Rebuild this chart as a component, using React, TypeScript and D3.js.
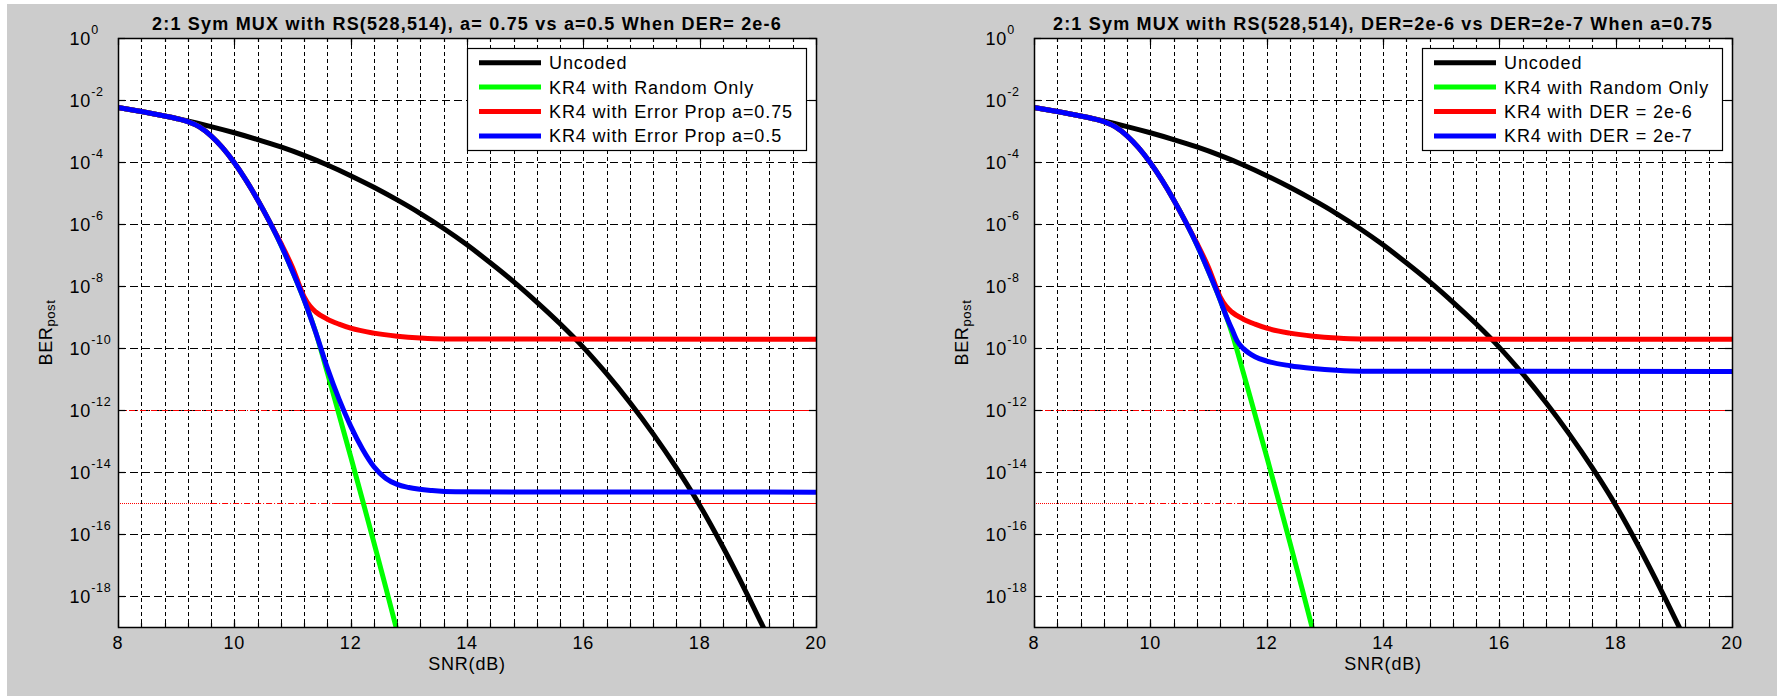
import React, { useRef, useEffect } from 'react';
import * as d3 from 'd3';

const width = 1781;
const height = 696;
const plotTop = 38;
const plotBottom = 627;
const plotW = 698;
const font = '"Liberation Sans", Arial, Helvetica, sans-serif';

// Uncoded curve (same in both panels)
const snrUncoded = [8, 8.4, 8.8, 9.2, 9.6, 10, 10.4, 10.8, 11.2, 11.6, 12, 12.4, 12.8, 13.2, 13.6, 14, 14.4, 14.8, 15.2, 15.6, 16, 16.4, 16.8, 17.2, 17.6, 18, 18.4, 18.8, 19.2];
const berUncoded = [5.75e-3, 4.25e-3, 3.05e-3, 2.11e-3, 1.39e-3, 8.79e-4, 5.3e-4, 3.05e-4, 1.63e-4, 8.02e-5, 3.63e-5, 1.53e-5, 5.97e-6, 2.17e-6, 7.18e-7, 2.13e-7, 5.6e-8, 1.38e-8, 3.02e-9, 6.03e-10, 1.05e-10, 1.48e-11, 1.74e-12, 1.7e-13, 1.35e-14, 8.51e-16, 3.8e-17, 1.32e-18, 3.8e-20];

// shared waterfall of the KR4 coded curves before they split
const snrCoded = [8, 8.4, 8.8, 9, 9.2, 9.4, 9.6, 9.8, 10, 10.2, 10.4, 10.6, 10.8, 11, 11.2];
const berCoded = [5.75e-3, 4.25e-3, 3.05e-3, 2.54e-3, 2.01e-3, 1.36e-3, 6.98e-4, 2.84e-4, 9.42e-5, 2.59e-5, 6.08e-6, 1.24e-6, 2.16e-7, 2.98e-8, 3.58e-9];

// KR4 with random errors only
const snrRandomTail = [11.4, 11.6, 11.8, 12, 12.2, 12.4, 12.6, 12.8];
const berRandomTail = [3.16e-10, 1.58e-11, 7.08e-13, 3.16e-14, 1.32e-15, 5.25e-17, 2.0e-18, 7.08e-20];

// KR4 with error propagation a=0.75 / DER=2e-6 (splits off after 10.6 dB)
const snrRedTail = [10.8, 11, 11.2, 11.3, 11.4, 11.6, 11.8, 12, 12.4, 12.8, 13.2, 13.6, 20];
const berRedTail = [2.4e-7, 3.98e-8, 4.47e-9, 2.24e-9, 1.45e-9, 8.51e-10, 5.89e-10, 4.37e-10, 3.02e-10, 2.4e-10, 2.09e-10, 1.95e-10, 1.91e-10];

// KR4 with error propagation a=0.5 (left panel)
const snrBlueLeftTail = [11.4, 11.6, 11.8, 12, 12.2, 12.4, 12.6, 12.8, 13, 13.4, 13.8, 20];
const berBlueLeftTail = [3.16e-10, 2.24e-11, 2.24e-12, 3.02e-13, 5.62e-14, 1.48e-14, 6.31e-15, 3.98e-15, 3.16e-15, 2.51e-15, 2.29e-15, 2.24e-15];

// KR4 with DER = 2e-7 (right panel)
const snrBlueRightTail = [11.3, 11.4, 11.5, 11.6, 11.8, 12, 12.4, 12.8, 13.2, 13.6, 20];
const berBlueRightTail = [1.12e-9, 4.17e-10, 1.58e-10, 9.55e-11, 5.25e-11, 3.8e-11, 2.69e-11, 2.19e-11, 1.91e-11, 1.78e-11, 1.74e-11];

const thresholds = [1e-12, 1e-15];

const xTicks = [8, 10, 12, 14, 16, 18, 20];
const yTickExp = [0, -2, -4, -6, -8, -10, -12, -14, -16, -18];

const titles = [
  '2:1 Sym MUX with RS(528,514), a= 0.75 vs a=0.5 When DER= 2e-6',
  '2:1 Sym MUX with RS(528,514), DER=2e-6 vs DER=2e-7 When a=0.75',
];
const legendLeft = ['Uncoded', 'KR4 with Random Only', 'KR4 with Error Prop a=0.75', 'KR4 with Error Prop a=0.5'];
const legendRight = ['Uncoded', 'KR4 with Random Only', 'KR4 with DER = 2e-6', 'KR4 with DER = 2e-7'];
const colors = ['#000000', '#00ff00', '#ff0000', '#0000ff'];

const zip = (xs: number[], ys: number[]) => xs.map((v, i) => [v, ys[i]] as [number, number]);

function drawPanel(svg: any, left: number, idx: number, title: string, labels: string[], blue: [number, number][]) {
  const x = d3.scaleLinear([8, 20], [left, left + plotW]);
  const y = d3.scaleLog([1e-19, 1], [plotBottom, plotTop]);
  const right = left + plotW;
  const cx = left + plotW / 2;
  const g = svg.append('g');
  const clipId = `clip${idx}`;

  g.append('clipPath').attr('id', clipId)
    .append('rect').attr('x', left).attr('y', plotTop).attr('width', plotW).attr('height', plotBottom - plotTop);

  g.append('rect')
    .attr('x', left).attr('y', plotTop)
    .attr('width', plotW).attr('height', plotBottom - plotTop)
    .attr('fill', '#fff');

  // grid
  const xGrid = d3.range(1, 30).map(i => 8 + i * 0.4);
  g.append('g').selectAll('line').data(xGrid).join('line')
    .attr('x1', d => Math.round(x(d)) + 0.5).attr('x2', d => Math.round(x(d)) + 0.5)
    .attr('y1', plotTop).attr('y2', plotBottom)
    .attr('stroke', '#000').attr('stroke-width', 1)
    .attr('stroke-dasharray', '4,3');
  g.append('g').selectAll('line').data(yTickExp.slice(1)).join('line')
    .attr('x1', left).attr('x2', right)
    .attr('y1', d => Math.round(y(10 ** d)) + 0.5).attr('y2', d => Math.round(y(10 ** d)) + 0.5)
    .attr('stroke', '#000').attr('stroke-width', 1)
    .attr('stroke-dasharray', '8,4');

  // thin red threshold lines (dotted/dash-dot near the left like the original)
  const thr = g.append('g').attr('stroke', '#ff0000').attr('stroke-width', 1.2);
  const seg = (v: number, a: number, b: number, dash: string | null) => thr.append('line')
    .attr('x1', x(a)).attr('x2', x(b))
    .attr('y1', Math.round(y(v)) + 0.5).attr('y2', Math.round(y(v)) + 0.5)
    .attr('stroke-dasharray', dash);
  seg(thresholds[0], 8, 11.2, '6,2,1,2');
  seg(thresholds[0], 11.2, 20, null);
  seg(thresholds[1], 8, 9.6, '1,1');
  seg(thresholds[1], 9.6, 11.7, '6,2,1,2');
  seg(thresholds[1], 11.7, 20, null);

  // curves
  const line = d3.line<[number, number]>()
    .x(d => x(d[0]))
    .y(d => y(d[1]))
    .curve(d3.curveMonotoneX);
  const coded = zip(snrCoded, berCoded);
  const series = [
    zip(snrUncoded, berUncoded),
    coded.concat(zip(snrRandomTail, berRandomTail)),
    coded.slice(0, 12).concat(zip(snrRedTail, berRedTail)),
    coded.concat(blue),
  ];
  const curves = g.append('g').attr('clip-path', `url(#${clipId})`);
  series.forEach((s, i) => {
    curves.append('path')
      .attr('d', line(s))
      .attr('fill', 'none')
      .attr('stroke', colors[i])
      .attr('stroke-width', 5)
      .attr('stroke-linejoin', 'round');
  });

  // axes box and ticks
  g.append('rect')
    .attr('x', left + 0.5).attr('y', plotTop + 0.5)
    .attr('width', plotW).attr('height', plotBottom - plotTop)
    .attr('fill', 'none').attr('stroke', '#000').attr('stroke-width', 1.5);
  const ticks = g.append('g').attr('stroke', '#000').attr('stroke-width', 1.2);
  xGrid.forEach(d => {
    const xx = Math.round(x(d)) + 0.5;
    ticks.append('line').attr('x1', xx).attr('x2', xx).attr('y1', plotTop).attr('y2', plotTop + 4);
    ticks.append('line').attr('x1', xx).attr('x2', xx).attr('y1', plotBottom).attr('y2', plotBottom - 4);
  });
  xTicks.forEach(d => {
    const xx = Math.round(x(d)) + 0.5;
    ticks.append('line').attr('x1', xx).attr('x2', xx).attr('y1', plotTop).attr('y2', plotTop + 7);
    ticks.append('line').attr('x1', xx).attr('x2', xx).attr('y1', plotBottom).attr('y2', plotBottom - 7);
  });
  yTickExp.forEach(e => {
    const yy = Math.round(y(10 ** e)) + 0.5;
    ticks.append('line').attr('x1', left).attr('x2', left + 7).attr('y1', yy).attr('y2', yy);
    ticks.append('line').attr('x1', right).attr('x2', right - 7).attr('y1', yy).attr('y2', yy);
  });

  // tick labels
  const labelsG = g.append('g').attr('fill', '#000').attr('font-family', font);
  xTicks.forEach(d => {
    labelsG.append('text')
      .attr('x', x(d)).attr('y', 648.5)
      .attr('text-anchor', 'middle')
      .attr('font-size', 18).attr('letter-spacing', 0.8)
      .text(d);
  });
  yTickExp.forEach(e => {
    const t = labelsG.append('text')
      .attr('x', left - 48.5).attr('y', y(10 ** e) + 6.5)
      .attr('font-size', 18).attr('letter-spacing', 0.8);
    t.append('tspan').text('10');
    t.append('tspan').attr('dy', -11).attr('font-size', 12.5).text(String(e));
  });

  labelsG.append('text')
    .attr('x', cx).attr('y', 670)
    .attr('text-anchor', 'middle')
    .attr('font-size', 18).attr('letter-spacing', 0.8)
    .text('SNR(dB)');

  const yl = labelsG.append('text')
    .attr('transform', `translate(${left - 66},${(plotTop + plotBottom) / 2}) rotate(-90)`)
    .attr('text-anchor', 'middle')
    .attr('font-size', 18).attr('letter-spacing', 0.6);
  yl.append('tspan').text('BER');
  yl.append('tspan').attr('dy', 3).attr('font-size', 13).text('post');

  labelsG.append('text')
    .attr('x', cx).attr('y', 29.5)
    .attr('text-anchor', 'middle')
    .attr('font-size', 18).attr('font-weight', 'bold').attr('letter-spacing', 1.2)
    .text(title);

  // legend
  const lg = g.append('g').attr('font-family', font);
  const box = lg.append('rect')
    .attr('y', 48.5).attr('height', 102)
    .attr('fill', '#fff').attr('stroke', '#000').attr('stroke-width', 1.2);
  const texts = labels.map((lab, i) => lg.append('text')
    .attr('y', 62.7 + i * 24.4 + 6.5)
    .attr('font-size', 18).attr('letter-spacing', 0.9)
    .text(lab));
  const maxW = d3.max(texts, t => (t.node() as SVGTextElement).getComputedTextLength()) || 240;
  const boxW = Math.round(82 + maxW + 13);
  const bx = right - 10 - boxW;
  box.attr('x', bx + 0.5).attr('width', boxW);
  texts.forEach(t => t.attr('x', bx + 82));
  labels.forEach((_, i) => {
    lg.append('line')
      .attr('x1', bx + 12).attr('x2', bx + 74)
      .attr('y1', 62.7 + i * 24.4).attr('y2', 62.7 + i * 24.4)
      .attr('stroke', colors[i]).attr('stroke-width', 5);
  });
}

const App = () => {
  const ref = useRef<SVGSVGElement>(null);

  useEffect(() => {
    if (!ref.current) return;
    const svg = d3.select(ref.current);
    svg.selectAll('*').remove();

    svg.append('rect')
      .attr('x', 7).attr('y', 4)
      .attr('width', 1770).attr('height', height - 4)
      .attr('fill', '#cccccc');

    drawPanel(svg, 118, 0, titles[0], legendLeft, zip(snrBlueLeftTail, berBlueLeftTail));
    drawPanel(svg, 1034, 1, titles[1], legendRight, zip(snrBlueRightTail, berBlueRightTail));
  }, []);

  return (
    <svg
      ref={ref}
      width={width}
      height={height}
      style={{ position: 'absolute', left: 0, top: 0, background: '#fff', display: 'block' }}
    />
  );
};

export default App;
